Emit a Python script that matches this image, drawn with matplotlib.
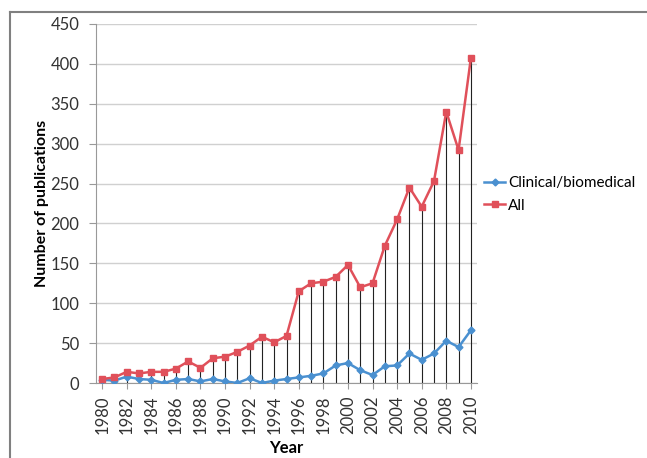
import matplotlib.pyplot as plt
import numpy as np

years = np.arange(1980, 2011)
all_pubs = [5, 7, 14, 12, 14, 14, 18, 27, 19, 31, 33, 39, 47, 58, 51, 59,
            115, 125, 127, 133, 148, 120, 125, 172, 205, 245, 221, 253, 340, 292, 407]
clinical = [4, 3, 8, 5, 4, 0, 4, 5, 2, 5, 2, 0, 6, 0, 3, 5,
            7, 9, 12, 22, 25, 16, 10, 21, 22, 37, 29, 37, 53, 45, 66]

plt.rcParams['font.family'] = ['Lato', 'DejaVu Sans']

fig = plt.figure(figsize=(6.47, 4.58), dpi=100)
ax = fig.add_axes([96/647, 1 - 383/458, (477 - 96)/647, (383 - 24)/458])

# frame lines around the figure (left and top only)
fig.add_artist(plt.Line2D([10/647, 10/647], [0, 1 - 12/458], color='#808080', lw=1.5, transform=fig.transFigure))
fig.add_artist(plt.Line2D([10/647, 1], [1 - 12/458, 1 - 12/458], color='#808080', lw=1.5, transform=fig.transFigure))

ax.vlines(years, 0, all_pubs, color='#222222', lw=0.8, zorder=2)
ax.plot(years, clinical, color='#4a90d0', lw=1.8, marker='D', ms=3.5, label='Clinical/biomedical', zorder=3)
ax.plot(years, all_pubs, color='#e0505a', lw=1.8, marker='s', ms=5, label='All', zorder=4)

ax.set_xlim(1979.5, 2010.5)
ax.set_ylim(0, 450)
ax.set_xticks(years[::2])
ax.set_xticklabels([str(y) for y in years[::2]], rotation=90, fontsize=12, color='#333333')
ax.set_yticks(np.arange(0, 451, 50))
ax.tick_params(axis='y', labelsize=12, colors='#333333', length=5, color='#999999', pad=7)
ax.tick_params(axis='x', length=4, color='#999999', pad=5)
ax.grid(axis='y', color='#d0d0d0', lw=1)
ax.set_axisbelow(True)
for s in ['top', 'right']:
    ax.spines[s].set_visible(False)
ax.spines['left'].set_color('#999999')
ax.spines['bottom'].set_color('#999999')

ax.set_xlabel('Year', fontsize=12, fontweight='bold', labelpad=4)
ax.set_ylabel('Number of publications', fontsize=11.5, fontweight='bold', labelpad=1)

ax.legend(loc='center left', bbox_to_anchor=(0.99, 0.525), frameon=False, fontsize=11,
          handlelength=1.4, handletextpad=0.2, labelspacing=0.55, borderaxespad=0.3)

fig.savefig('out.png', dpi=100)
